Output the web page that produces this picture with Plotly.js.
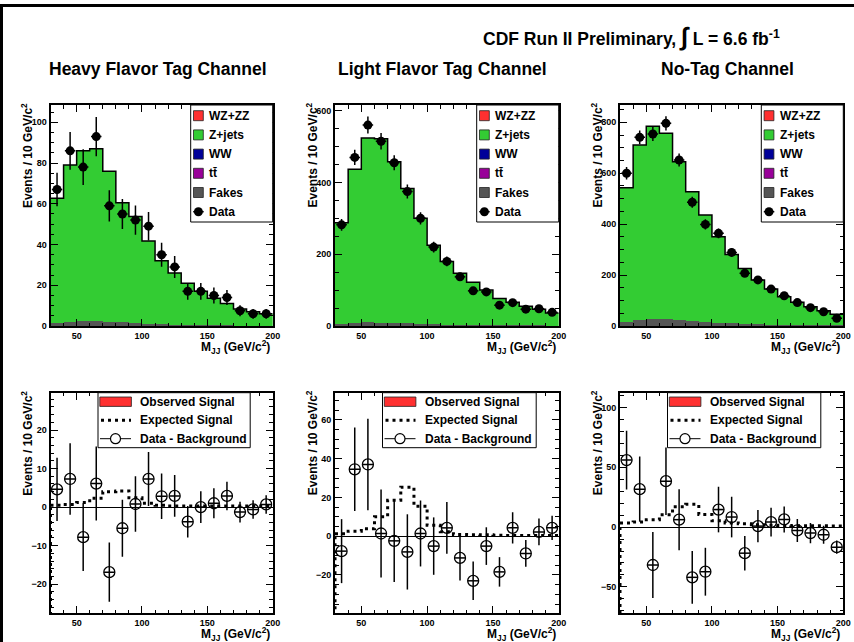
<!DOCTYPE html>
<html><head><meta charset="utf-8">
<script src="https://cdn.plot.ly/plotly-3.0.1.min.js"></script>
<style>html,body{margin:0;padding:0;background:#fff}#chart{width:854px;height:642px}</style>
</head><body><div id="chart"></div>
<script>
// ---------------- data ----------------
const binEdges   = [30,40,50,60,70,80,90,100,110,120,130,140,150,160,170,180,190,200];
const binCenters = [35,45,55,65,75,85,95,105,115,125,135,145,155,165,175,185,195];

// Heavy Flavor Tag Channel
const hfBkg   = [62.7,79,86,87,76,60.5,53.7,41.7,32,26,21,17,13.6,11,8.3,7,6];
const hfFakes = [1.5,2,2.5,2.5,2.2,2,1.5,1.2,0.8,0.6,0.5,0.4,0.3,0.3,0.2,0.2,0.2];
const hfData  = [67,86,78,93,59,55,52,49,35,29,17,17,15,14,7.5,6,6];
const hfErr   = [8.2,9.3,8.8,9.6,7.7,7.4,7.2,7,5.9,5.4,4.1,4.1,3.9,3.7,2.7,2.4,2.4];
const hfDiff  = [4.6,7.3,-7.8,6.1,-16.9,-5.5,0.8,7.3,2.8,2.9,-3.8,0,1,2.9,-1.3,-0.6,0.7];
const hfExp   = [0.5,0.7,1.2,2.3,4.0,4.2,2.4,1.0,0.5,0.3,0.3,0.3,0.3,0.3,0.3,0.3,0.3];

// Light Flavor Tag Channel
const lfBkg   = [288,437,524,522,458,383,300,225,180,147,122,100,77,66,55,47,36];
const lfFakes = [5,8,10,9,8,7,6,5,4,3,3,2,2,2,1.5,1.5,1];
const lfData  = [282,470,560,515,455,375,300,220,180,137,98,95,58,65,47,48,38];
const lfErr   = [16.5,21.5,23.6,22.7,21.2,19.4,17,14.8,13.4,11.6,9.9,9.7,7.6,8,6.9,6.9,6.2];
const lfDiff  = [-7.7,34.5,37,1.4,-2.4,-8.1,1.4,-5.1,4.3,-11.2,-23,-5.1,-18.4,4.3,-8.9,2.2,4.3];
const lfExp   = [1.3,2.6,3.9,10,18.5,25.3,15.5,5.6,2.3,0.9,0.8,0.7,0.5,0.4,0.4,0.4,0.3];

// No-Tag Channel
const ntBkg   = [543,711,785,757,645,527,436,351,281,226,181,145,115,93,76,60,46];
const ntFakes = [15,25,27,27,24,20,17,13,10,8,6,5,4,3,3,2,2];
const ntData  = [600,741,754,796,652,486,399,364,289,207,181,145,119,92,72,56,30];
const ntErr   = [24.5,27.2,27.5,28.2,25.5,22,20,19,17,14.4,13.4,12,10.9,9.6,8.5,7.5,5.5];
const ntDiff  = [56,31.7,-31.7,38.4,6.2,-42,-37.3,14.6,8.4,-21.8,0.8,4.2,6.4,-2.8,-5,-6.4,-16.8];
const ntExp   = [3.4,4.2,6.2,10.4,17,19,10.6,5.2,3.5,2.8,2,1.6,1.4,1.2,1.2,1.1,1];

const channelTitles = ['Heavy Flavor Tag Channel','Light Flavor Tag Channel','No-Tag Channel'];
const topLegendLabels = ['WZ+ZZ','Z+jets','WW','tt\u0304','Fakes','Data'];
const topLegendColors = ['#ff3030','#33cc33','#000099','#990099','#555555',null];
const botLegendLabels = ['Observed Signal','Expected Signal','Data - Background'];

// ---------------- layout helpers ----------------
const W = 854, H = 642;
const px = x => x / W, py = y => 1 - y / H;
const FONT = 'Liberation Sans, Arial, Helvetica, sans-serif';
const GREEN = '#33cc33', GRAY = '#555555';

const cols = [{l:50.5, r:272.7}, {l:335, r:558.7}, {l:620, r:843.3}];
const topRow = {t:105, b:326}, botRow = {t:392.7, b:613};

const channels = [
  {bkg:hfBkg, fakes:hfFakes, data:hfData, err:hfErr, diff:hfDiff, exp:hfExp,
   topRange:[0,108.5], topD:20, topM:5, botRange:[-27.5,29.7], botD:10, botM:2},
  {bkg:lfBkg, fakes:lfFakes, data:lfData, err:lfErr, diff:lfDiff, exp:lfExp,
   topRange:[0,616], topD:200, topM:50, botRange:[-39.6,74], botD:20, botM:5},
  {bkg:ntBkg, fakes:ntFakes, data:ntData, err:ntErr, diff:ntDiff, exp:ntExp,
   topRange:[0,868], topD:200, topM:50, botRange:[-71.8,112.3], botD:50, botM:10}
];

const traces = [], shapes = [], annotations = [];
const layout = {
  width: W, height: H, margin:{l:0,r:0,t:0,b:0},
  paper_bgcolor:'white', plot_bgcolor:'white',
  showlegend:false, barmode:'overlay', bargap:0,
  font:{family:FONT, color:'black'}
};

function axisStyle(extra){
  return Object.assign({
    showline:true, linecolor:'black', linewidth:2, mirror:'allticks',
    ticks:'inside', ticklen:7, tickwidth:1, tickcolor:'black',
    showgrid:false, zeroline:false, fixedrange:true,
    tickfont:{family:FONT, size:9, color:'black', weight:'bold'}
  }, extra);
}

function stepY(vals){ return vals.concat([vals[vals.length-1]]); }

channels.forEach((c, i) => {
  const col = cols[i];
  const tN = i + 1, bN = i + 4;
  const tx = tN === 1 ? 'x' : 'x' + tN, ty = tN === 1 ? 'y' : 'y' + tN;
  const bx = 'x' + bN, by = 'y' + bN;
  const xdom = [px(col.l), px(col.r)];

  layout['xaxis' + (tN === 1 ? '' : tN)] = axisStyle({domain:xdom, anchor:ty, range:[30,200],
    tickvals:[50,100,150,200], minor:{ticks:'inside', ticklen:3.5, dtick:10, tick0:0, tickcolor:'black', showgrid:false}});
  layout['yaxis' + (tN === 1 ? '' : tN)] = axisStyle({domain:[py(topRow.b), py(topRow.t)], anchor:tx,
    range:c.topRange, dtick:c.topD, tick0:0, minor:{ticks:'inside', ticklen:3.5, dtick:c.topM, tick0:0, tickcolor:'black', showgrid:false}});
  layout['xaxis' + bN] = axisStyle({domain:xdom, anchor:by, range:[30,200],
    tickvals:[50,100,150,200], minor:{ticks:'inside', ticklen:3.5, dtick:10, tick0:0, tickcolor:'black', showgrid:false}});
  layout['yaxis' + bN] = axisStyle({domain:[py(botRow.b), py(botRow.t)], anchor:bx,
    range:c.botRange, dtick:c.botD, tick0:0, zeroline:true, zerolinecolor:'black', zerolinewidth:1,
    minor:{ticks:'inside', ticklen:3.5, dtick:c.botM, tick0:0, tickcolor:'black', showgrid:false}});

  // ---- top: stacked background ----
  traces.push({type:'bar', x:binCenters, y:c.bkg, width:10, xaxis:tx, yaxis:ty,
    marker:{color:GREEN, line:{width:0}}, hoverinfo:'skip'});
  traces.push({type:'bar', x:binCenters, y:c.fakes, width:10, xaxis:tx, yaxis:ty,
    marker:{color:GRAY, line:{width:0}}, hoverinfo:'skip'});
  traces.push({type:'scatter', mode:'lines', x:binEdges, y:stepY(c.bkg), xaxis:tx, yaxis:ty,
    line:{color:'black', width:1.5, shape:'hv'}, hoverinfo:'skip'});
  traces.push({type:'scatter', mode:'markers', x:binCenters, y:c.data, xaxis:tx, yaxis:ty,
    marker:{color:'black', size:9, symbol:'circle'},
    error_y:{type:'data', array:c.err, color:'black', thickness:1.5, width:0},
    error_x:{type:'constant', value:4, color:'black', thickness:1.5, width:0}});

  // ---- bottom: expected signal + data - background ----
  traces.push({type:'scatter', mode:'lines', x:binEdges, y:stepY(c.exp), xaxis:bx, yaxis:by,
    line:{color:'black', width:3, shape:'hv', dash:'3px,4px'}, hoverinfo:'skip'});
  traces.push({type:'scatter', mode:'markers', x:binCenters, y:c.diff, xaxis:bx, yaxis:by,
    marker:{color:'black', size:11, symbol:'circle-open', line:{width:1.3, color:'black'}},
    error_y:{type:'data', array:c.err, color:'black', thickness:1.5, width:0},
    error_x:{type:'constant', value:4, color:'black', thickness:1.5, width:0}});
  shapes.push({type:'line', xref:bx, yref:by, x0:30, x1:30, y0:0, y1:c.botRange[0],
    line:{color:'black', width:3, dash:'3px,4px'}});

  // ---- channel title ----
  annotations.push({xref:'paper', yref:'paper', x:px((col.l + col.r)/2 - 4), y:py(69),
    xanchor:'center', yanchor:'middle', showarrow:false, text:channelTitles[i],
    font:{family:FONT, size:17.5, weight:'bold', color:'black'}});

  // ---- axis titles ----
  [topRow, botRow].forEach(row => {
    annotations.push({xref:'paper', yref:'paper', x:px(col.l - 23), y:py(row.t - 4),
      xanchor:'center', yanchor:'top', textangle:-90, showarrow:false,
      text:'Events / 10 GeV/c<sup>2</sup>', font:{family:FONT, size:12, weight:'bold'}});
    annotations.push({xref:'paper', yref:'paper', x:px(col.r - 1), y:py(row.b + 21),
      xanchor:'right', yanchor:'middle', showarrow:false,
      text:'M<sub>JJ</sub> (GeV/c<sup>2</sup>)', font:{family:FONT, size:12, weight:'bold'}});
  });

  // ---- top legend (drawn box) ----
  const L = col.r - 82, T = topRow.t;
  shapes.push({type:'rect', xref:'paper', yref:'paper', x0:px(L), x1:px(col.r), y0:py(T), y1:py(T + 117),
    fillcolor:'white', line:{color:'black', width:1}});
  topLegendLabels.forEach((lab, k) => {
    const yc = T + 10.7 + k * 19.2;
    const col2 = topLegendColors[k];
    if (col2) {
      shapes.push({type:'rect', xref:'paper', yref:'paper', x0:px(L + 2.8), x1:px(L + 12.6),
        y0:py(yc - 5), y1:py(yc + 5), fillcolor:col2, line:{color:'#222', width:0.8}});
    } else {
      shapes.push({type:'line', xref:'paper', yref:'paper', x0:px(L + 2.5), x1:px(L + 13),
        y0:py(yc), y1:py(yc), line:{color:'black', width:1.5}});
      shapes.push({type:'circle', xref:'paper', yref:'paper', x0:px(L + 3.2), x1:px(L + 12.2),
        y0:py(yc - 4.5), y1:py(yc + 4.5), fillcolor:'black', line:{color:'black', width:0}});
    }
    annotations.push({xref:'paper', yref:'paper', x:px(L + 16.5), y:py(yc), xanchor:'left', yanchor:'middle',
      showarrow:false, text:lab, font:{family:FONT, size:12, weight:'bold'}});
  });

  // ---- bottom legend ----
  const BL = col.l + 47.5, BR = col.r - 22.5, BT = botRow.t;
  shapes.push({type:'rect', xref:'paper', yref:'paper', x0:px(BL), x1:px(BR), y0:py(BT), y1:py(BT + 55),
    fillcolor:'white', line:{color:'black', width:1}});
  botLegendLabels.forEach((lab, k) => {
    const yc = BT + 9 + k * 18.5;
    if (k === 0) {
      shapes.push({type:'rect', xref:'paper', yref:'paper', x0:px(BL + 1.8), x1:px(BL + 33.4),
        y0:py(yc - 4.7), y1:py(yc + 4.7), fillcolor:'#ff3030', line:{color:'#222', width:0.8}});
    } else if (k === 1) {
      shapes.push({type:'line', xref:'paper', yref:'paper', x0:px(BL + 3), x1:px(BL + 33),
        y0:py(yc), y1:py(yc), line:{color:'black', width:3, dash:'3px,4px'}});
    } else {
      shapes.push({type:'line', xref:'paper', yref:'paper', x0:px(BL + 2), x1:px(BL + 33),
        y0:py(yc), y1:py(yc), line:{color:'black', width:1}});
      shapes.push({type:'circle', xref:'paper', yref:'paper', x0:px(BL + 12.5), x1:px(BL + 22.5),
        y0:py(yc - 5), y1:py(yc + 5), fillcolor:'white', line:{color:'black', width:1.2}});
    }
    annotations.push({xref:'paper', yref:'paper', x:px(BL + 40), y:py(yc), xanchor:'left', yanchor:'middle',
      showarrow:false, text:lab, font:{family:FONT, size:12, weight:'bold'}});
  });
});

// header
annotations.push({xref:'paper', yref:'paper', x:px(631), y:py(37), xanchor:'center', yanchor:'middle',
  showarrow:false, text:'CDF Run II Preliminary, <span style="font-size:25px">\u222B</span> L = 6.6 fb<sup>-1</sup>',
  font:{family:FONT, size:17.5, weight:'bold'}});

// page frame
shapes.push({type:'rect', xref:'paper', yref:'paper', x0:px(1.5), x1:px(900), y0:py(5.5), y1:py(700),
  fillcolor:'rgba(0,0,0,0)', line:{color:'black', width:3}});

layout.shapes = shapes;
layout.annotations = annotations;

Plotly.newPlot('chart', traces, layout, {staticPlot:true, displayModeBar:false});
</script></body></html>
